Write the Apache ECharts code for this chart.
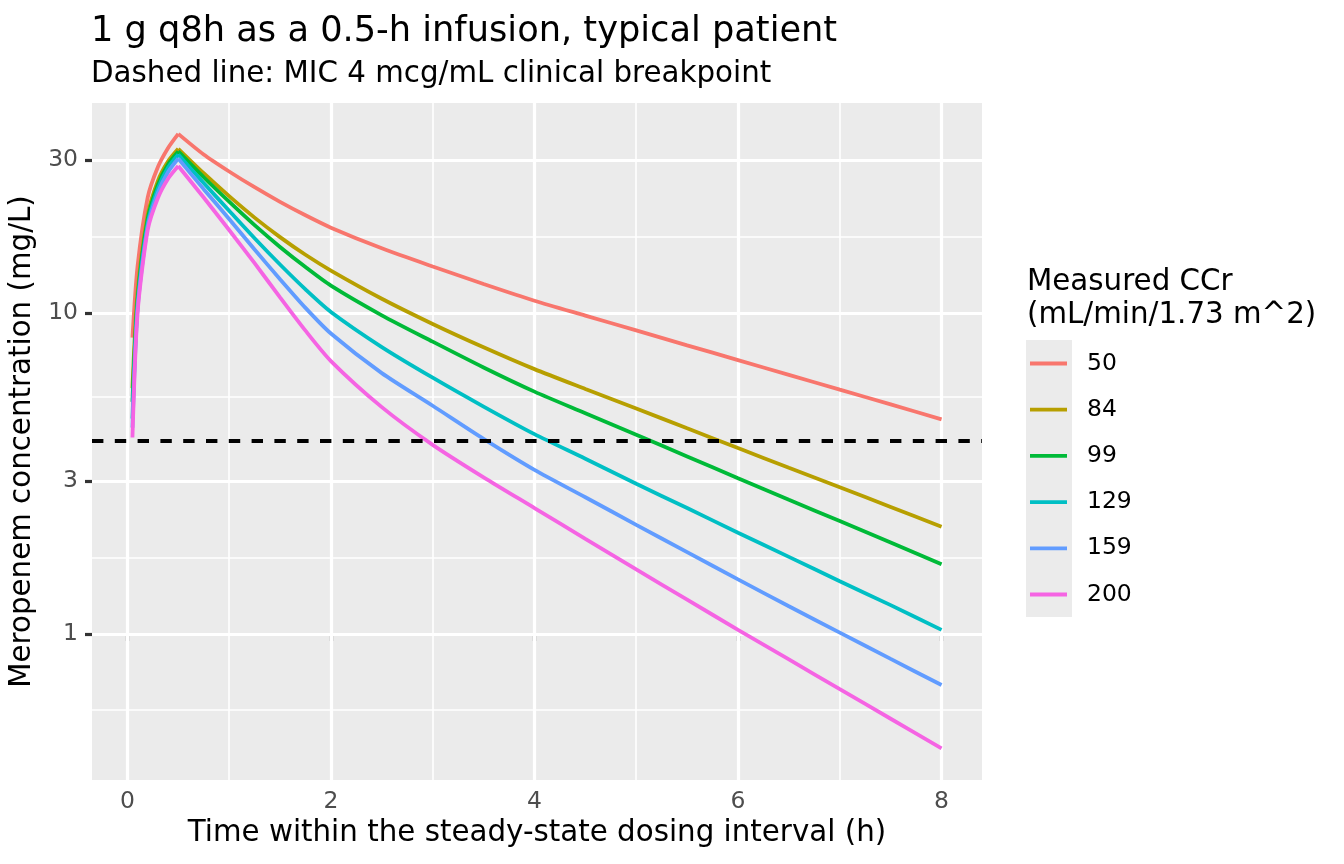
<!DOCTYPE html>
<html>
<head>
<meta charset="utf-8">
<title>Meropenem steady-state profiles</title>
<script src="https://cdn.jsdelivr.net/npm/echarts@6/dist/echarts.min.js"></script>
<style>
  html, body { margin: 0; padding: 0; background: #ffffff; }
  #chart { width: 1344px; height: 864px; }
</style>
</head>
<body>
<div id="chart"></div>
<script>
// time grid (h) and concentrations (mg/L), one array per measured CCr
const timeH = [0.05, 0.1, 0.2, 0.3, 0.4, 0.5, 0.75, 1, 1.25, 1.5, 1.75, 2, 2.5, 3, 3.5, 4, 4.5, 5, 5.5, 6, 6.5, 7, 7.5, 8]
const ccrLevels = ['50', '84', '99', '129', '159', '200']
const conc50 = [8.4, 14.0, 23.0, 28.6, 32.8, 36.3, 31.3, 27.7, 24.74, 22.27, 20.22, 18.5, 15.95, 14.0, 12.35, 10.95, 9.84, 8.85, 7.95, 7.15, 6.43, 5.78, 5.2, 4.67]
const conc84 = [5.85, 11.6, 20.3, 25.9, 29.8, 32.6, 27.35, 23.2, 19.89, 17.29, 15.23, 13.6, 11.11, 9.27, 7.84, 6.7, 5.81, 5.05, 4.38, 3.8, 3.3, 2.87, 2.49, 2.16]
const conc99 = [5.3, 11.0, 19.7, 25.2, 29.2, 32.0, 26.58, 22.3, 18.84, 16.11, 13.94, 12.2, 9.86, 8.16, 6.78, 5.7, 4.88, 4.18, 3.58, 3.06, 2.62, 2.25, 1.93, 1.65]
const conc129 = [4.7, 10.6, 19.1, 24.5, 28.5, 31.3, 25.5, 20.9, 17.15, 14.2, 11.88, 10.1, 7.85, 6.3, 5.12, 4.2, 3.52, 2.94, 2.47, 2.07, 1.74, 1.46, 1.23, 1.03]
const conc159 = [4.4, 10.3, 18.7, 23.8, 27.6, 30.4, 24.4, 19.7, 15.82, 12.78, 10.4, 8.65, 6.51, 5.15, 4.06, 3.25, 2.67, 2.19, 1.8, 1.48, 1.22, 1.01, 0.836, 0.693]
const conc200 = [4.1, 10.0, 18.2, 22.9, 26.3, 28.8, 22.98, 18.2, 14.34, 11.22, 8.83, 7.1, 5.1, 3.89, 3.08, 2.47, 1.98, 1.59, 1.28, 1.03, 0.833, 0.673, 0.544, 0.44]
const micBreakpoint = 4
const infusionEnd = 0.5   // end of the 0.5-h infusion: the peak of every curve

// axis breaks
const xBreaks = [0, 2, 4, 6, 8]
const xMinorBreaks = [1, 3, 5, 7]
const yBreaks = [1, 3, 10, 30]
const yMinorBreaks = [0.577, 1.732, 5.477, 17.32]
const xRange = [-0.3475, 8.3975]
const yRange = [0.3504, 45.3]

const palette = ['#F8766D', '#B79F00', '#00BA38', '#00BFC4', '#619CFF', '#F564E3']
const concSets = [conc50, conc84, conc99, conc129, conc159, conc200]
const FONT = 'DejaVu Sans'
const LINE_W = 3.8

const chart = echarts.init(document.getElementById('chart'), null, { renderer: 'canvas' })

const majorGrid = { color: '#ffffff', width: 3.2, type: 'solid' }
const minorGrid = { color: '#ffffff', width: 1.6, type: 'solid' }

const gridSeries = {
  name: 'grid',
  type: 'line',
  data: [],
  silent: true,
  z: 1,
  markLine: {
    silent: true,
    animation: false,
    z: 1,
    symbol: ['none', 'none'],
    label: { show: false },
    emphasis: { disabled: true },
    lineStyle: { type: 'solid', color: '#ffffff' },
    data: [
      ...yMinorBreaks.map(v => ({ yAxis: v, lineStyle: minorGrid })),
      ...xMinorBreaks.map(v => ({ xAxis: v, lineStyle: minorGrid })),
      ...yBreaks.map(v => ({ yAxis: v, lineStyle: majorGrid })),
      ...xBreaks.map(v => ({ xAxis: v, lineStyle: majorGrid }))
    ]
  }
}

// each curve is drawn as two pieces (infusion, then decay) so the peak stays sharp;
// both pieces share the level name, so the legend lists it once
function curvePiece(name, i, keep) {
  const pts = timeH.map((t, j) => [t, concSets[i][j]]).filter(p => keep(p[0]))
  return {
    name,
    type: 'line',
    data: pts,
    symbol: 'none',
    showSymbol: false,
    smooth: 0.25,
    silent: true,
    z: 2,
    lineStyle: { width: LINE_W, color: palette[i] },
    itemStyle: { color: palette[i] }
  }
}

const lineSeries = []
ccrLevels.forEach((name, i) => {
  lineSeries.push(curvePiece(name, i, t => t <= infusionEnd))
  lineSeries.push(curvePiece(name, i, t => t >= infusionEnd))
})

const micSeries = {
  name: 'mic',
  type: 'line',
  data: [],
  silent: true,
  z: 5,
  markLine: {
    silent: true,
    animation: false,
    z: 5,
    symbol: ['none', 'none'],
    label: { show: false },
    emphasis: { disabled: true },
    lineStyle: { type: [11.4, 11.4], color: '#000000', width: LINE_W },
    data: [{ yAxis: micBreakpoint }]
  }
}

chart.setOption({
  animation: false,
  backgroundColor: '#ffffff',
  textStyle: { fontFamily: FONT },
  title: [
    {
      text: '1 g q8h as a 0.5-h infusion, typical patient',
      left: 91,
      top: 14,
      padding: 0,
      textStyle: { fontFamily: FONT, fontSize: 35.2, fontWeight: 'normal', color: '#000000' }
    },
    {
      text: 'Dashed line: MIC 4 mcg/mL clinical breakpoint',
      left: 91,
      top: 59.5,
      padding: 0,
      textStyle: { fontFamily: FONT, fontSize: 29.33, fontWeight: 'normal', color: '#000000' }
    }
  ],
  grid: {
    left: 92,
    top: 103,
    width: 890,
    height: 677,
    show: true,
    backgroundColor: '#EBEBEB',
    borderWidth: 0,
    containLabel: false,
    outerBoundsMode: 'none'
  },
  legend: {
    data: ccrLevels.map(name => ({ name, icon: 'rect' })),
    orient: 'vertical',
    left: 1030,
    top: 352,
    padding: 0,
    itemWidth: 37,
    itemHeight: LINE_W,
    itemGap: 23.2,
    selectedMode: false,
    textStyle: { fontFamily: FONT, fontSize: 23.47, color: '#000000', padding: [0, 0, 0, 15] }
  },
  graphic: [
    {
      type: 'rect',
      shape: { x: 1026, y: 340, width: 46, height: 277 },
      style: { fill: '#EBEBEB' },
      silent: true,
      z: 0
    },
    {
      type: 'text',
      x: 1027,
      y: 268,
      silent: true,
      style: { text: 'Measured CCr', font: '29.33px "DejaVu Sans"', fill: '#000000', verticalAlign: 'top' }
    },
    {
      type: 'text',
      x: 1027,
      y: 301,
      silent: true,
      style: { text: '(mL/min/1.73 m^2)', font: '29.33px "DejaVu Sans"', fill: '#000000', verticalAlign: 'top' }
    }
  ],
  xAxis: {
    type: 'value',
    min: xRange[0],
    max: xRange[1],
    name: 'Time within the steady-state dosing interval (h)',
    nameLocation: 'middle',
    nameGap: 37,
    nameTextStyle: { fontFamily: FONT, fontSize: 29.33, color: '#000000' },
    axisLine: { show: false },
    splitLine: { show: false },
    axisTick: { show: true, customValues: xBreaks, length: 7, lineStyle: { color: '#333333', width: 3.2 } },
    axisLabel: {
      customValues: xBreaks,
      margin: 10.5,
      fontFamily: FONT,
      fontSize: 23.47,
      color: '#4D4D4D'
    }
  },
  yAxis: [
    {
      // data scale (log10), drawn without decorations
      type: 'log',
      logBase: 10,
      min: yRange[0],
      max: yRange[1],
      position: 'left',
      show: false,
      splitLine: { show: false }
    },
    {
      // label overlay for the log scale: same extent in log10 units
      type: 'value',
      position: 'left',
      min: Math.log10(yRange[0]),
      max: Math.log10(yRange[1]),
      name: 'Meropenem concentration (mg/L)',
      nameLocation: 'middle',
      nameGap: 49,
      nameTextStyle: { fontFamily: FONT, fontSize: 29.33, color: '#000000' },
      axisLine: { show: false },
      splitLine: { show: false },
      axisTick: { show: true, customValues: yBreaks.map(Math.log10), length: 7, lineStyle: { color: '#333333', width: 3.2 } },
      axisLabel: {
        customValues: yBreaks.map(Math.log10),
        margin: 14,
        fontFamily: FONT,
        fontSize: 23.47,
        color: '#4D4D4D',
        formatter: v => String(Math.round(Math.pow(10, v)))
      }
    }
  ],
  series: [gridSeries, ...lineSeries, micSeries]
})
</script>
</body>
</html>
